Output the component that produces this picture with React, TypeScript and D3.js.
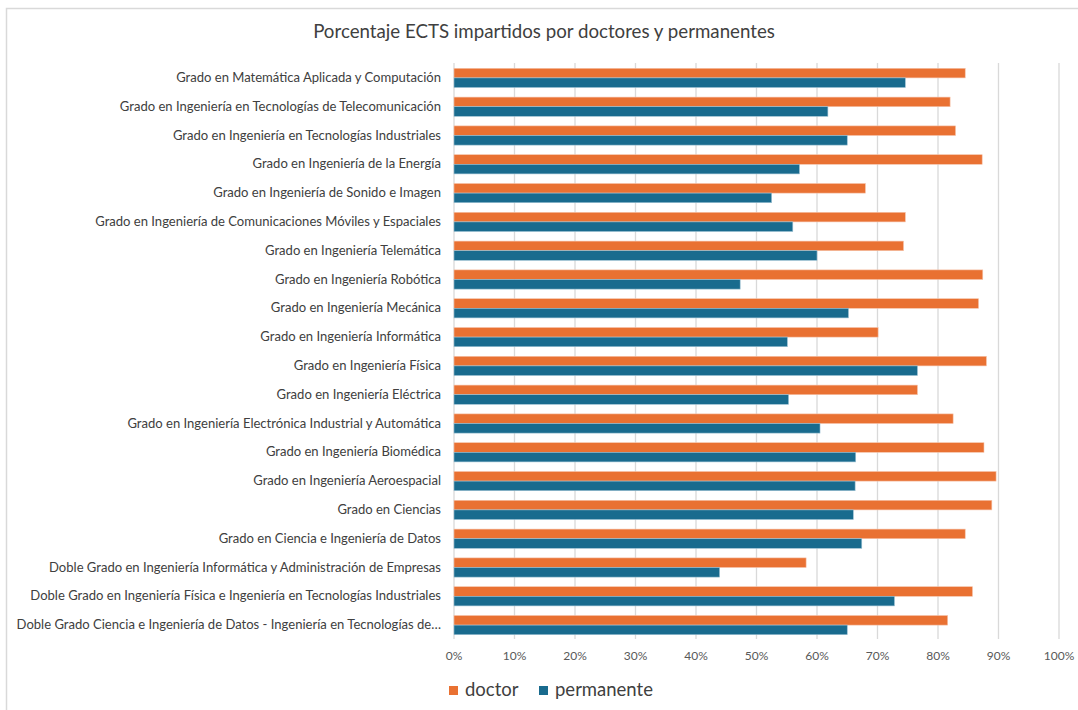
import React from "react";
import * as d3 from "d3";

const categories: string[] = [
  "Grado en Matemática Aplicada y Computación",
  "Grado en Ingeniería en Tecnologías de Telecomunicación",
  "Grado en Ingeniería en Tecnologías Industriales",
  "Grado en Ingeniería de la Energía",
  "Grado en Ingeniería de Sonido e Imagen",
  "Grado en Ingeniería de Comunicaciones Móviles y Espaciales",
  "Grado en Ingeniería Telemática",
  "Grado en Ingeniería Robótica",
  "Grado en Ingeniería Mecánica",
  "Grado en Ingeniería Informática",
  "Grado en Ingeniería Física",
  "Grado en Ingeniería Eléctrica",
  "Grado en Ingeniería Electrónica Industrial y Automática",
  "Grado en Ingeniería Biomédica",
  "Grado en Ingeniería Aeroespacial",
  "Grado en Ciencias",
  "Grado en Ciencia e Ingeniería de Datos",
  "Doble Grado en Ingeniería Informática y Administración de Empresas",
  "Doble Grado en Ingeniería Física e Ingeniería en Tecnologías Industriales",
  "Doble Grado Ciencia e Ingeniería de Datos - Ingeniería en Tecnologías de…",
];

const doctor: number[] = [
  0.845, 0.82, 0.829, 0.873, 0.68, 0.746, 0.743, 0.874, 0.867, 0.701,
  0.88, 0.766, 0.825, 0.876, 0.896, 0.889, 0.845, 0.582, 0.857, 0.816,
];

const permanente: number[] = [
  0.746, 0.618, 0.65, 0.571, 0.525, 0.56, 0.60, 0.473, 0.652, 0.551,
  0.766, 0.553, 0.605, 0.664, 0.663, 0.66, 0.674, 0.439, 0.728, 0.65,
];

const seriesNames: string[] = ["doctor", "permanente"];
const seriesColors: string[] = ["#E97132", "#196B8E"];
const xTicks: number[] = [0, 0.1, 0.2, 0.3, 0.4, 0.5, 0.6, 0.7, 0.8, 0.9, 1.0];
const title = "Porcentaje ECTS impartidos por doctores y permanentes";

const FONT = "Lato, 'Noto Sans', sans-serif";

export default function App() {
  const W = 1078;
  const H = 710;
  const left = 454;
  const right = 1059;
  const top = 63;
  const bottom = 639;

  const x = d3.scaleLinear().domain([0, 1]).range([left, right]);
  const y = d3.scaleBand<string>().domain(categories).range([top, bottom]).paddingInner(0).paddingOuter(0);
  const inner = d3
    .scaleBand<string>()
    .domain(seriesNames)
    .range([0, y.bandwidth()])
    .paddingOuter(0.5)
    .paddingInner(0);

  const fmt = d3.format(".0%");
  const values = [doctor, permanente];

  return (
    <svg
      width={W}
      height={H}
      style={{ position: "absolute", left: 0, top: 0, background: "#fff" }}
      fontFamily={FONT}
    >
      <rect x={0} y={0} width={W} height={H} fill="#fff" />
      <rect x={6.5} y={8.5} width={W + 20} height={H + 20} fill="#fff" stroke="#d9d9d9" strokeWidth={1.5} />

      <text x={544} y={38} textAnchor="middle" fontSize={18.7} fill="#404040">
        {title}
      </text>

      {xTicks.map((t) => (
        <line key={"g" + t} x1={x(t)} x2={x(t)} y1={top} y2={bottom} stroke="#d9d9d9" strokeWidth={1.3} />
      ))}

      {values.map((vals, si) =>
        categories.map((c, i) => (
          <rect
            key={si + "-" + i}
            x={x(0)}
            y={(y(c) ?? 0) + (inner(seriesNames[si]) ?? 0) + 0.5}
            width={x(vals[i]) - x(0)}
            height={inner.bandwidth()}
            fill={seriesColors[si]}
            stroke={si === 0 ? "#f6c4aa" : "#9cc0d3"}
            strokeWidth={0.6}
          />
        ))
      )}

      {categories.map((c) => (
        <text
          key={"l" + c}
          x={left - 13}
          y={(y(c) ?? 0) + y.bandwidth() / 2}
          dy="0.35em"
          textAnchor="end"
          fontSize={13.05}
          fill="#404040"
        >
          {c}
        </text>
      ))}

      {xTicks.map((t) => (
        <text key={"t" + t} x={x(t)} y={660} textAnchor="middle" fontSize={12} fill="#595959">
          {fmt(t)}
        </text>
      ))}

      {seriesNames.map((s, i) => {
        const lx = [449, 539][i];
        return (
          <g key={"lg" + s}>
            <rect x={lx} y={686} width={9} height={9} fill={seriesColors[i]} />
            <text x={lx + 16} y={696} fontSize={18.5} fill="#404040">
              {s}
            </text>
          </g>
        );
      })}
    </svg>
  );
}
